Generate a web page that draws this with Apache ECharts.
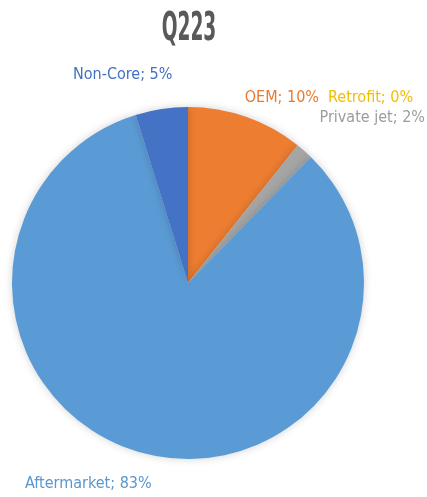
<!DOCTYPE html>
<html><head><meta charset="utf-8">
<script src="https://cdn.jsdelivr.net/npm/echarts@6/dist/echarts.min.js"></script>
<style>html,body{margin:0;padding:0;background:#fff}#c{width:427px;height:497px}</style>
</head><body><div id="c"></div>
<script>
const categories = ["OEM", "Retrofit", "Private jet", "Aftermarket", "Non-Core"];
const values = [10.7, 0, 1.6, 82.9, 4.8];
const labelTexts = ["OEM; 10%", "Retrofit; 0%", "Private jet; 2%", "Aftermarket; 83%", "Non-Core; 5%"];
const colors = ["#ED7D31", "#FFC000", "#A5A5A5", "#5B9BD5", "#4472C4"];
const labelColors = ["#E8792E", "#F5BC00", "#9C9C9C", "#5B96CF", "#4470C0"];
const title = "Q223";

const FONT = '"DejaVu Sans Condensed", "Liberation Sans Narrow", "Roboto", sans-serif';
const labelSpots = [
  {x: 319, y: 98, align: 'right'},
  {x: 328, y: 98, align: 'left'},
  {x: 425, y: 118, align: 'right'},
  {x: 25, y: 484, align: 'left'},
  {x: 73, y: 75, align: 'left'}
];

const chart = echarts.init(document.getElementById('c'));
chart.setOption({
  animation: false,
  graphic: [{
    type: 'text', x: 189, y: 30, scaleX: 0.53,
    style: {
      text: title, x: 0, y: 0, align: 'center', verticalAlign: 'middle',
      font: 'bold 39px "DejaVu Sans Condensed", sans-serif', fill: '#595959'
    }
  }],
  series: [{
    type: 'pie',
    center: [188, 283],
    radius: 176,
    startAngle: 90,
    clockwise: true,
    minShowLabelAngle: 0,
    itemStyle: {borderWidth: 0, shadowBlur: 8, shadowColor: 'rgba(0,0,0,0.18)'},
    labelLine: {show: false},
    label: {
      show: true,
      fontFamily: FONT,
      fontSize: 16,
      overflow: 'none',
      width: 200,
      formatter: p => labelTexts[p.dataIndex]
    },
    labelLayout: p => {
      const s = labelSpots[p.dataIndex];
      return {x: s.x, y: s.y, align: s.align, verticalAlign: 'middle', moveOverlap: false, hideOverlap: false};
    },
    emphasis: {disabled: true},
    data: categories.map((c, i) => ({
      name: c, value: values[i],
      itemStyle: {color: colors[i]},
      label: {color: labelColors[i]}
    }))
  }]
});
</script></body></html>
